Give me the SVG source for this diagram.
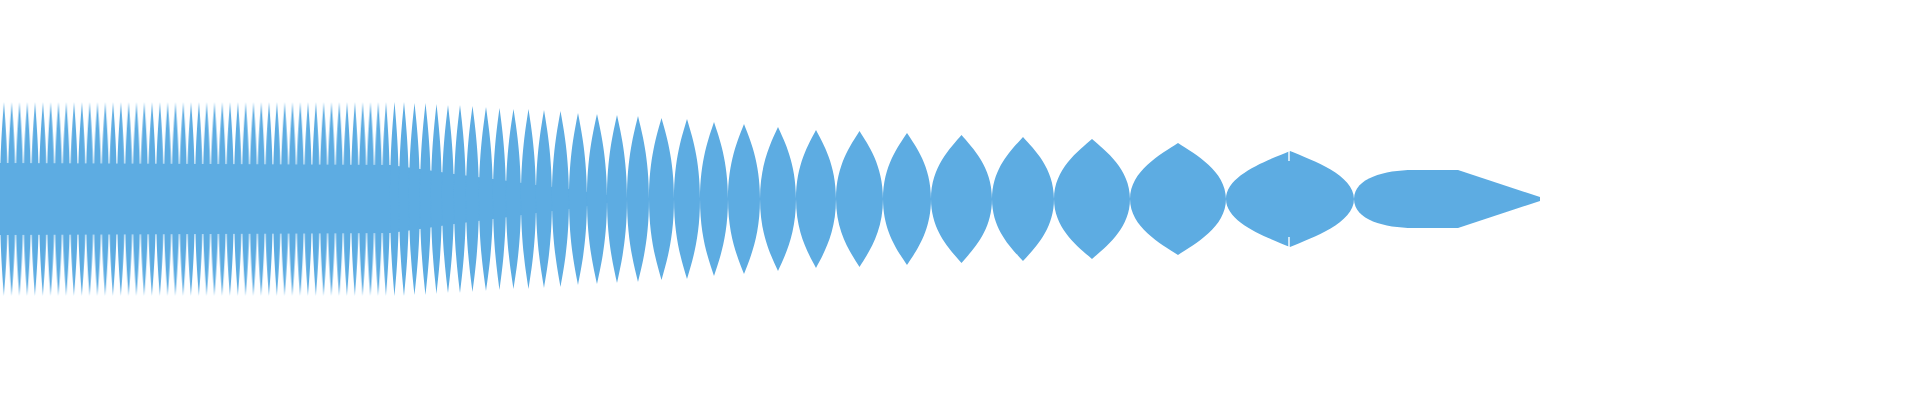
<svg xmlns="http://www.w3.org/2000/svg" width="1920" height="400" viewBox="0 0 1920 400">
<style>.w{fill:#5dace2}</style>
<defs>
<path id="L" d="M0,0 C0,-0.5 0.32,-0.8 0.5,-1 C0.68,-0.8 1,-0.5 1,0 C1,0.5 0.68,0.8 0.5,1 C0.32,0.8 0,0.5 0,0Z"/>
<pattern id="sp" patternUnits="userSpaceOnUse" x="0" y="0" width="7.8" height="400">
<use href="#L" class="w" transform="translate(0,199) scale(7.8,97)"/>
</pattern>
</defs>
<rect width="1920" height="400" fill="#fff"/>
<g id="wave" class="w">
<rect x="0" y="0" width="390" height="400" fill="url(#sp)"/>
<polygon points="0,163 390,165 420,169 454,174 493,179 536,185 569,189 607,195 627,199 607,203 569,209 536,213 493,219 454,224 420,229 390,233 0,235"/>
<use href="#L" transform="translate(390,199) scale(9,97)"/>
<use href="#L" transform="translate(399,199) scale(10,97)"/>
<use href="#L" transform="translate(409,199) scale(11,96)"/>
<use href="#L" transform="translate(420,199) scale(11,96)"/>
<use href="#L" transform="translate(431,199) scale(11,95)"/>
<use href="#L" transform="translate(442,199) scale(12,94)"/>
<use href="#L" transform="translate(454,199) scale(12,94)"/>
<use href="#L" transform="translate(466,199) scale(13,93)"/>
<use href="#L" transform="translate(479,199) scale(14,92)"/>
<use href="#L" transform="translate(493,199) scale(13,91)"/>
<use href="#L" transform="translate(506,199) scale(15,90)"/>
<use href="#L" transform="translate(521,199) scale(15,90)"/>
<use href="#L" transform="translate(536,199) scale(16,89)"/>
<use href="#L" transform="translate(552,199) scale(17,88)"/>
<use href="#L" transform="translate(569,199) scale(18,86)"/>
<use href="#L" transform="translate(587,199) scale(20,85)"/>
<use href="#L" transform="translate(607,199) scale(20,84)"/>
<use href="#L" transform="translate(627,199) scale(22,83)"/>
<use href="#L" transform="translate(649,199) scale(25,81)"/>
<use href="#L" transform="translate(674,199) scale(26,80)"/>
<use href="#L" transform="translate(700,199) scale(28,77)"/>
<use href="#L" transform="translate(728,199) scale(32,75)"/>
<use href="#L" transform="translate(760,199) scale(36,72)"/>
<use href="#L" transform="translate(796,199) scale(40,69)"/>
<use href="#L" transform="translate(836,199) scale(47,68)"/>
<use href="#L" transform="translate(883,199) scale(48,66)"/>
<use href="#L" transform="translate(931,199) scale(61,64)"/>
<use href="#L" transform="translate(992,199) scale(62,62)"/>
<use href="#L" transform="translate(1054,199) scale(76,60)"/>
<use href="#L" transform="translate(1130,199) scale(96,56)"/>
<use href="#L" transform="translate(1226,199) scale(128,48)"/>
<path d="M1354,199 C1354,178 1385,170 1413,170 L1458,170 L1540,197 L1540,201 L1458,228 L1413,228 C1385,228 1354,220 1354,199Z"/>
</g>
<g id="notches" fill="#fff">
<rect x="1288.3" y="150" width="1.4" height="11"/>
<rect x="1288.3" y="237" width="1.4" height="11"/>
</g>
</svg>
